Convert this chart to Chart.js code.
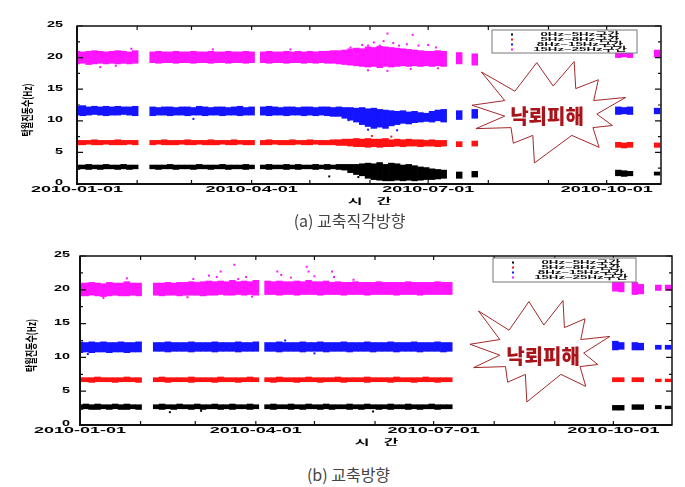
<!DOCTYPE html>
<html>
<head>
<meta charset="utf-8">
<script src="https://cdn.jsdelivr.net/npm/chart.js@4.4.0/dist/chart.umd.min.js"></script>
<style>
  body { margin: 0; background: #fff; width: 685px; height: 487px; position: relative; overflow: hidden; }
  canvas { position: absolute; left: 0; }
  #topChart { top: 0; }
  #bottomChart { top: 240px; }
  .cap { position: absolute; width: 685px; text-align: center; font-family: "Noto Sans CJK KR", "Noto Sans", sans-serif; font-size: 16px; color: #444; }
</style>
</head>
<body>
<canvas id="topChart" width="685" height="212"></canvas>
<canvas id="bottomChart" width="685" height="220"></canvas>
<div class="cap" style="top:208px; left:7px">(a) 교축직각방향</div>
<div class="cap" style="top:462px; left:6px">(b) 교축방향</div>
<script>
// series and axis labels
const seriesNames = ["0Hz~5Hz구간", "5Hz~8Hz구간", "8Hz~15Hz구간", "15Hz~25Hz구간"]
const seriesColors = ["#000000", "#ff1212", "#1414ff", "#ff14ff"]
const dateTickDays = [0, 90, 181, 273]
const dateTickLabels = ["2010-01-01", "2010-04-01", "2010-07-01", "2010-10-01"]
const monthTickDays = [0, 31, 59, 90, 120, 151, 181, 212, 243, 273]
const freqTicks = [0, 5, 10, 15, 20, 25]
const freqMinorTicks = [2.5, 7.5, 12.5, 17.5, 22.5]
const yTitle = "탁월진동수(Hz)"
const xTitle = ["시", "간"]
const damageText = "낙뢰피해"

// (a) days since 2010-01-01; each band sample is the low / high edge of that day's point cloud
const topDays = [
  0,3,6,9,12,15,18,21,24,27,30,
  39,42,45,48,51,54,57,60,63,66,69,72,75,78,81,84,87,90,
  96,99,102,105,108,111,114,117,120,123,126,129,132,135,138,141,144,147,150,153,156,159,162,165,168,171,174,177,180,183,186,189,
  197,205,
  279,282,285,299]

const topLow0 = [
  2.3,2.4,2.3,2.4,2.3,2.4,2.4,2.3,2.4,2.3,2.4,
  2.4,2.3,2.4,2.4,2.3,2.4,2.4,2.3,2.4,2.4,2.3,2.4,2.4,2.3,2.4,2.4,2.3,2.4,
  2.4,2.3,2.4,2.4,2.3,2.4,2.3,2.4,2.4,2.3,2.4,2.3,2.4,2.3,2.2,1.8,1.5,1.3,0.9,0.7,0.6,0.5,0.5,0.6,0.5,0.6,0.5,0.6,0.7,0.7,0.8,0.9,
  0.9,1.1,
  1.3,1.2,1.3,1.4]
const topHigh0 = [
  3.0,3.0,3.1,3.0,3.0,3.1,3.0,3.0,3.1,3.0,3.0,
  3.0,3.0,3.0,3.1,3.0,3.0,3.0,3.0,3.1,3.0,3.0,3.0,3.1,3.0,3.0,3.0,3.1,3.0,
  3.0,3.1,3.0,3.0,3.1,3.0,3.1,3.0,3.0,3.1,3.0,3.1,3.0,3.1,3.1,3.1,3.1,3.2,3.3,3.2,3.4,3.1,3.3,3.2,3.0,3.1,2.9,2.7,2.6,2.4,2.3,2.2,
  1.9,2.0,
  2.2,2.1,2.0,1.9]
const topLow1 = [
  6.2,6.2,6.3,6.2,6.2,6.3,6.2,6.2,6.2,6.3,6.2,
  6.2,6.3,6.2,6.2,6.2,6.3,6.2,6.2,6.3,6.2,6.2,6.2,6.3,6.2,6.2,6.3,6.2,6.2,
  6.2,6.2,6.3,6.2,6.2,6.2,6.3,6.2,6.2,6.3,6.2,6.2,6.2,6.1,6.1,6.0,5.9,5.9,5.8,5.9,5.8,5.9,5.9,6.0,5.9,6.0,6.0,5.9,6.0,6.0,5.9,6.0,
  5.9,6.0,
  5.8,5.7,5.8,5.8]
const topHigh1 = [
  6.9,6.9,6.9,7.0,6.9,6.9,6.9,7.0,6.9,6.9,6.9,
  6.9,6.9,7.0,6.9,6.9,6.9,7.0,6.9,6.9,6.9,7.0,6.9,6.9,6.9,7.0,6.9,6.9,6.9,
  6.9,7.0,6.9,6.9,6.9,7.0,6.9,6.9,7.0,6.9,6.9,6.9,7.0,7.0,7.1,7.1,7.2,7.1,7.2,7.1,7.1,7.2,7.0,7.1,7.0,7.1,7.0,7.0,6.9,7.0,6.9,6.9,
  6.7,6.8,
  6.6,6.5,6.6,6.5]
const topLow2 = [
  10.9,10.8,10.9,11.0,10.9,10.8,10.9,10.9,11.0,10.9,10.8,
  10.8,10.9,10.9,10.8,10.9,10.9,10.8,10.9,10.9,10.8,10.9,10.9,10.8,10.9,10.9,10.8,10.9,10.9,
  10.9,10.8,10.9,10.9,10.8,10.9,10.9,10.8,10.9,10.8,10.9,10.8,10.7,10.7,10.4,10.1,9.8,9.4,9.1,8.8,9.0,8.8,9.2,9.4,9.6,9.5,9.7,9.8,9.9,9.8,10.0,9.8,
  10.2,10.4,
  11.0,11.1,11.0,11.1]
const topHigh2 = [
  12.3,12.4,12.2,12.3,12.2,12.3,12.2,12.3,12.2,12.2,12.3,
  12.2,12.1,12.2,12.2,12.1,12.2,12.2,12.1,12.3,12.2,12.1,12.2,12.2,12.1,12.2,12.3,12.1,12.2,
  12.2,12.3,12.2,12.1,12.2,12.2,12.1,12.2,12.2,12.1,12.2,12.2,12.1,12.2,12.1,12.1,12.0,12.1,11.9,12.0,11.8,11.7,11.6,11.5,11.6,11.4,11.5,11.3,11.2,11.5,11.7,11.8,
  11.6,11.8,
  12.2,12.1,12.2,12.0]
const topLow3 = [
  19.0,19.1,18.9,19.0,19.1,19.0,19.1,19.0,19.1,19.0,19.1,
  19.2,19.1,19.2,19.2,19.1,19.2,19.2,19.1,19.2,19.2,19.1,19.2,19.2,19.1,19.2,19.2,19.1,19.2,
  19.2,19.1,19.2,19.2,19.1,19.2,19.2,19.1,19.2,19.1,19.2,19.1,19.1,19.0,18.9,18.8,18.7,18.6,18.5,18.6,18.4,18.6,18.5,18.6,18.7,18.6,18.7,18.6,18.7,18.6,18.7,18.6,
  19.0,18.8,
  20.0,20.1,20.0,20.1]
const topHigh3 = [
  21.0,20.9,21.0,21.1,21.0,20.9,21.0,21.1,21.0,20.9,21.1,
  20.9,21.0,20.9,20.9,21.0,20.9,20.9,21.0,20.9,20.9,21.0,20.9,20.9,21.0,20.9,20.9,21.0,20.9,
  20.9,21.0,20.9,20.9,21.0,20.9,21.0,20.9,21.0,20.9,21.0,21.0,21.1,21.1,21.2,21.4,21.5,21.4,21.7,21.6,21.8,21.7,21.6,21.5,21.4,21.3,21.2,21.1,21.0,21.0,21.1,21.0,
  20.8,20.6,
  21.3,21.2,21.3,21.2]

// (a) single readings lying outside the bands [day, Hz]
const topStray0 = [[145,1.1],[130,1.2]]
const topStray1 = [[152,7.6],[162,7.5]]
const topStray2 = [[60,10.3],[150,8.6],[165,8.5],[140,10.1]]
const topStray3 = [[141,21.6],[147,22.0],[150,21.9],[153,22.4],[156,21.9],[158,22.6],[160,23.8],[163,22.3],[166,21.9],[170,22.1],[173,23.6],[176,21.9],[181,22.0],[185,21.6],
  [150,18.0],[160,17.9],[172,18.2],[186,18.3],[12,18.5],[20,18.7],[28,21.4],[70,21.3],[110,21.3]]

// (b)
const bottomDays = [
  0,3,6,9,12,15,18,21,24,27,30,
  39,42,45,48,51,54,57,60,63,66,69,72,75,78,81,84,87,90,
  96,99,102,105,108,111,114,117,120,123,126,129,132,135,138,141,144,147,150,153,156,159,162,165,168,171,174,177,180,183,186,189,
  274,277,284,287,296,301]

const bottomLow0 = [
  2.3,2.4,2.3,2.3,2.4,2.3,2.4,2.3,2.3,2.4,2.3,
  2.4,2.3,2.4,2.3,2.4,2.4,2.3,2.4,2.3,2.4,2.4,2.3,2.4,2.3,2.4,2.4,2.3,2.4,
  2.4,2.3,2.4,2.4,2.3,2.4,2.3,2.4,2.4,2.3,2.4,2.3,2.4,2.4,2.3,2.4,2.3,2.4,2.4,2.3,2.4,2.3,2.4,2.4,2.3,2.4,2.3,2.4,2.4,2.3,2.4,2.4,
  2.2,2.2,2.3,2.3,2.4,2.4]
const bottomHigh0 = [
  3.0,3.1,3.0,3.1,3.0,3.0,3.1,3.0,3.1,3.0,3.0,
  3.0,3.1,3.0,3.0,3.1,3.0,3.0,3.1,3.0,3.0,3.1,3.0,3.0,3.1,3.0,3.0,3.1,3.0,
  3.0,3.1,3.0,3.0,3.1,3.0,3.0,3.1,3.0,3.0,3.1,3.0,3.0,3.0,3.1,3.0,3.0,3.1,3.0,3.0,3.0,3.1,3.0,3.0,3.1,3.0,3.0,3.0,3.1,3.0,3.0,3.0,
  2.9,2.9,3.0,3.0,2.9,2.8]
const bottomLow1 = [
  6.4,6.4,6.3,6.4,6.4,6.4,6.3,6.4,6.4,6.4,6.3,
  6.4,6.4,6.3,6.4,6.4,6.4,6.3,6.4,6.4,6.4,6.3,6.4,6.4,6.4,6.3,6.4,6.4,6.4,
  6.4,6.3,6.4,6.4,6.4,6.3,6.4,6.4,6.4,6.3,6.4,6.4,6.4,6.3,6.4,6.4,6.4,6.3,6.4,6.4,6.4,6.3,6.4,6.4,6.4,6.3,6.4,6.4,6.4,6.3,6.4,6.4,
  6.4,6.4,6.4,6.4,6.4,6.4]
const bottomHigh1 = [
  7.0,7.0,7.0,7.1,7.0,7.0,7.0,7.0,7.1,7.0,7.0,
  7.0,7.1,7.0,7.0,7.0,7.0,7.1,7.0,7.0,7.0,7.0,7.1,7.0,7.0,7.0,7.0,7.1,7.0,
  7.0,7.0,7.1,7.0,7.0,7.0,7.0,7.1,7.0,7.0,7.0,7.0,7.1,7.0,7.0,7.0,7.0,7.1,7.0,7.0,7.0,7.0,7.1,7.0,7.0,7.0,7.0,7.1,7.0,7.0,7.0,7.0,
  7.0,7.0,7.0,7.0,6.8,6.8]
const bottomLow2 = [
  10.7,10.8,10.7,10.8,10.8,10.7,10.8,10.8,10.7,10.8,10.8,
  10.9,10.9,10.8,10.9,10.9,10.9,10.8,10.9,10.9,10.9,10.8,10.9,10.9,10.9,10.8,10.9,10.9,10.9,
  10.9,10.9,10.8,10.9,10.9,10.9,10.8,10.9,10.9,10.9,10.8,10.9,10.9,10.9,10.8,10.9,10.9,10.9,10.8,10.9,10.9,10.9,10.8,10.9,10.9,10.9,10.8,10.9,10.9,10.9,10.8,10.9,
  11.1,11.2,11.1,11.1,11.2,11.2]
const bottomHigh2 = [
  12.3,12.2,12.3,12.2,12.3,12.2,12.2,12.3,12.2,12.2,12.3,
  12.2,12.2,12.3,12.2,12.2,12.2,12.3,12.2,12.2,12.2,12.3,12.2,12.2,12.2,12.3,12.2,12.2,12.3,
  12.2,12.2,12.3,12.2,12.2,12.2,12.3,12.2,12.2,12.3,12.2,12.2,12.2,12.3,12.2,12.2,12.2,12.3,12.2,12.2,12.2,12.3,12.2,12.2,12.2,12.3,12.2,12.2,12.2,12.3,12.2,12.2,
  12.4,12.2,12.2,12.1,11.8,11.8]
const bottomLow3 = [
  19.1,19.1,19.2,19.1,19.0,19.1,19.2,19.1,19.1,19.2,19.1,
  19.2,19.1,19.2,19.2,19.1,19.2,19.2,19.2,19.1,19.2,19.2,19.3,19.2,19.2,19.3,19.2,19.3,19.2,
  19.3,19.3,19.2,19.3,19.3,19.2,19.3,19.3,19.3,19.2,19.3,19.3,19.3,19.2,19.3,19.3,19.3,19.2,19.3,19.3,19.3,19.3,19.2,19.3,19.3,19.3,19.2,19.3,19.3,19.3,19.3,19.3,
  19.8,19.7,19.3,19.4,19.9,19.9]
const bottomHigh3 = [
  21.0,21.0,21.1,21.0,20.9,21.1,21.0,21.0,21.2,21.0,21.0,
  21.0,21.0,21.1,21.0,21.1,21.1,21.2,21.1,21.2,21.3,21.2,21.3,21.2,21.4,21.2,21.3,21.2,21.4,
  21.3,21.2,21.3,21.2,21.2,21.3,21.2,21.4,21.2,21.2,21.3,21.1,21.2,21.1,21.1,21.2,21.1,21.1,21.1,21.2,21.1,21.1,21.1,21.1,21.2,21.1,21.1,21.1,21.1,21.2,21.1,21.1,
  21.4,21.2,21.1,20.8,20.7,20.7]

const bottomStray0 = [[46,1.9],[62,2.1],[150,2.0]]
const bottomStray1 = []
const bottomStray2 = [[120,10.6],[105,12.5],[4,10.5]]
const bottomStray3 = [[24,21.7],[66,22.1],[70,21.9],[72,22.7],[79,23.7],[81,21.6],[85,21.9],[101,22.7],[103,22.2],[108,21.8],[116,23.4],[117,22.7],
  [120,22.0],[129,22.7],[130,21.9],[12,18.8],[55,18.9],[88,19.0],[58,21.6],[140,21.5]]

// hand drawn burst outline, unit coords
const burst = [[-0.88,-0.77],[-0.45,-0.4],[-0.17,-0.95],[0.04,-0.5],[0.31,-0.97],[0.33,-0.45],[0.62,-0.62],[0.56,-0.22],[0.97,-0.28],[0.6,0.04],
  [0.8,0.26],[0.55,0.3],[0.63,0.68],[0.28,0.45],[-0.2,0.98],[-0.22,0.45],[-0.47,0.6],[-0.5,0.3],[-0.95,0.32],[-0.58,0.08],[-1.0,-0.13],[-0.58,-0.22]]

function stretchText(ctx, text, x, y, sx) {
  ctx.save()
  ctx.translate(x, y)
  ctx.scale(sx, 1)
  ctx.fillText(text, 0, 0)
  ctx.restore()
}

function makeChart(id, cfg) {
  const datasets = []
  cfg.low.forEach((lo, s) => {
    datasets.push({
      type: "bar",
      label: seriesNames[s],
      data: cfg.days.map((d, i) => ({ x: d, y: [lo[i], cfg.high[s][i]] })),
      backgroundColor: seriesColors[s],
      barPercentage: 1,
      categoryPercentage: 1,
      grouped: false,
    })
  })
  cfg.stray.forEach((pts, s) => {
    datasets.push({
      type: "scatter",
      label: seriesNames[s] + " stray",
      data: pts.map(p => ({ x: p[0], y: p[1] })),
      backgroundColor: seriesColors[s],
      borderWidth: 0,
      pointStyle: "rect",
      pointRadius: 1.4,
    })
  })

  const deco = {
    id: "deco",
    afterDraw(chart) {
      const { ctx, chartArea: a, scales: { x, y } } = chart
      ctx.save()

      // frame
      ctx.strokeStyle = "#111"
      ctx.lineWidth = 1.5
      ctx.strokeRect(a.left, a.top, a.right - a.left, a.bottom - a.top)
      ctx.lineWidth = 2
      ctx.beginPath()
      ctx.moveTo(a.left, a.top)
      ctx.lineTo(a.left, a.bottom)
      ctx.lineTo(a.right, a.bottom)
      ctx.stroke()

      // inward ticks on all sides
      ctx.lineWidth = 1.2
      ctx.beginPath()
      monthTickDays.forEach(d => {
        const px = x.getPixelForValue(d)
        ctx.moveTo(px, a.bottom); ctx.lineTo(px, a.bottom - 4)
        ctx.moveTo(px, a.top); ctx.lineTo(px, a.top + 4)
      })
      freqTicks.forEach(v => {
        const py = y.getPixelForValue(v)
        ctx.moveTo(a.left, py); ctx.lineTo(a.left + 6, py)
        ctx.moveTo(a.right, py); ctx.lineTo(a.right - 6, py)
      })
      freqMinorTicks.forEach(v => {
        const py = y.getPixelForValue(v)
        ctx.moveTo(a.left, py); ctx.lineTo(a.left + 3, py)
        ctx.moveTo(a.right, py); ctx.lineTo(a.right - 3, py)
      })
      ctx.stroke()

      // tick labels, stretched wide like the source figure
      ctx.fillStyle = "#000"
      ctx.font = 'bold 9px "Liberation Sans", Arial, sans-serif'
      ctx.textBaseline = "middle"
      ctx.textAlign = "center"
      dateTickDays.forEach((d, i) => {
        stretchText(ctx, dateTickLabels[i], x.getPixelForValue(d), a.bottom + 6, 2.0)
      })
      ctx.textAlign = "right"
      freqTicks.forEach(v => {
        stretchText(ctx, String(v), a.left - cfg.yLabelGap, y.getPixelForValue(v) - 1, 1.6)
      })

      // axis titles
      ctx.textAlign = "center"
      ctx.font = 'bold 8px "Noto Sans CJK KR", sans-serif'
      const cx = (a.left + a.right) / 2
      stretchText(ctx, xTitle[0], cx - 14, a.bottom + 17, 2.0)
      stretchText(ctx, xTitle[1], cx + 15, a.bottom + 17, 2.0)
      ctx.save()
      ctx.translate(cfg.yTitleX, (a.top + a.bottom) / 2 + 5)
      ctx.rotate(-Math.PI / 2)
      ctx.scale(1, 1.5)
      ctx.font = 'bold 8px "Noto Sans CJK KR", sans-serif'
      ctx.fillText(yTitle, 0, 0)
      ctx.restore()

      // legend box
      const L = cfg.legend
      ctx.fillStyle = "#fff"
      ctx.fillRect(L.x, L.y, L.w, L.h)
      ctx.strokeStyle = "#777"
      ctx.lineWidth = 1
      ctx.strokeRect(L.x, L.y, L.w, L.h)
      ctx.font = 'bold 6px "Liberation Sans", "Noto Sans CJK KR", sans-serif'
      seriesNames.forEach((name, i) => {
        const ry = L.y + 4.5 + i * 5
        ctx.fillStyle = seriesColors[i]
        ctx.fillRect(L.x + 19, ry - 1, 2, 2)
        ctx.fillStyle = "#111"
        stretchText(ctx, name, L.x + 88, ry, 2.2)
      })

      // lightning damage burst
      const B = cfg.burst
      ctx.beginPath()
      burst.forEach((p, i) => {
        const px = B.cx + p[0] * B.rx
        const py = B.cy + p[1] * B.ry
        if (i === 0) ctx.moveTo(px, py)
        else ctx.lineTo(px, py)
      })
      ctx.closePath()
      ctx.fillStyle = "#fff"
      ctx.fill()
      ctx.strokeStyle = "#a3282a"
      ctx.lineWidth = 1
      ctx.stroke()
      ctx.fillStyle = "#a8141a"
      ctx.font = '900 20px "Noto Sans CJK KR", sans-serif'
      ctx.fillText(damageText, B.tx, B.ty)

      ctx.restore()
    },
  }

  return new Chart(document.getElementById(id), {
    type: "bar",
    data: { datasets },
    options: {
      responsive: false,
      animation: false,
      devicePixelRatio: 1,
      layout: { padding: { left: 0, right: cfg.padRight, top: cfg.padTop, bottom: 0 } },
      plugins: { legend: { display: false }, tooltip: { enabled: false } },
      scales: {
        x: {
          type: "linear",
          min: 0,
          max: cfg.maxDay,
          offset: false,
          grid: { display: false },
          border: { display: false },
          ticks: { display: false },
          afterFit: s => { s.height = cfg.xHeight },
        },
        y: {
          min: 0,
          max: 25,
          grid: { display: false },
          border: { display: false },
          ticks: { display: false },
          afterFit: s => { s.width = cfg.yWidth },
        },
      },
    },
    plugins: [deco],
  })
}

makeChart("topChart", {
  days: topDays,
  low: [topLow0, topLow1, topLow2, topLow3],
  high: [topHigh0, topHigh1, topHigh2, topHigh3],
  stray: [topStray0, topStray1, topStray2, topStray3],
  maxDay: 301,
  padRight: 24, padTop: 26, yWidth: 77, xHeight: 28,
  yLabelGap: 14, yTitleX: 27,
  legend: { x: 492, y: 30, w: 145, h: 23 },
  burst: { cx: 550, cy: 112, rx: 78, ry: 52, tx: 547, ty: 116 },
})

makeChart("bottomChart", {
  days: bottomDays,
  low: [bottomLow0, bottomLow1, bottomLow2, bottomLow3],
  high: [bottomHigh0, bottomHigh1, bottomHigh2, bottomHigh3],
  stray: [bottomStray0, bottomStray1, bottomStray2, bottomStray3],
  maxDay: 303,
  padRight: 13, padTop: 16, yWidth: 80, xHeight: 35,
  yLabelGap: 10, yTitleX: 31,
  legend: { x: 493, y: 18, w: 143, h: 24 },
  burst: { cx: 541, cy: 111, rx: 71, ry: 52, tx: 543, ty: 116 },
})
</script>
</body>
</html>
